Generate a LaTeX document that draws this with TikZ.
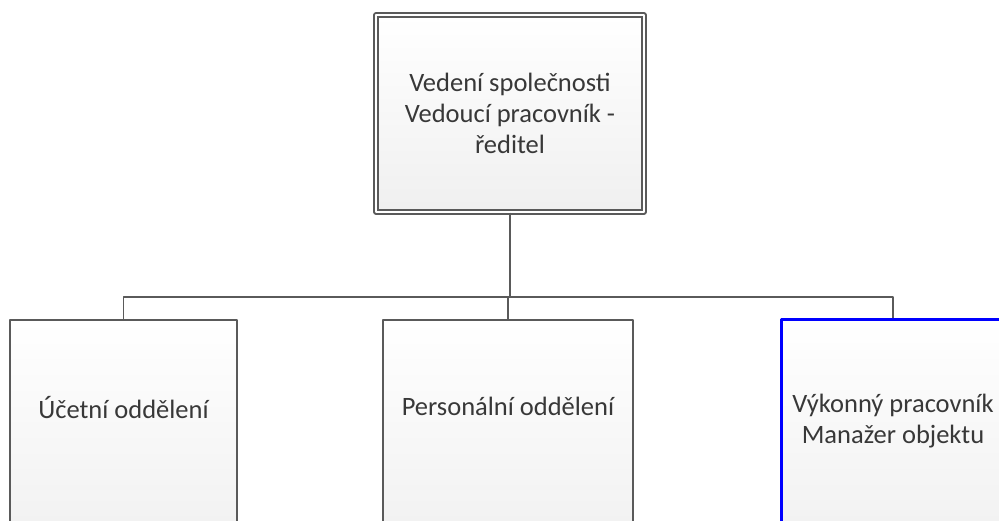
\documentclass[tikz,border=0pt]{standalone}
\usepackage{fontspec}
\setmainfont{Carlito}
\definecolor{boxgray}{HTML}{5A5A5A}
\definecolor{txtgray}{HTML}{383838}
\definecolor{selblue}{RGB}{0,0,255}
\begin{document}
\begin{tikzpicture}[x=1pt, y=-1pt, line join=round,
	box/.style={draw=boxgray, line width=1.6pt, top color=white, bottom color=black!6, minimum height=240pt, anchor=north, inner sep=0pt},
	headbox/.style={draw=boxgray, line width=1.4pt, double=white, double distance=2.6pt, top color=white, bottom color=black!6, minimum width=268pt, minimum height=197pt, inner sep=0pt},
	label/.style={text=txtgray, align=center, font=\fontsize{26.5}{31}\selectfont},
	conn/.style={draw=boxgray, line width=1.6pt}]
	\useasboundingbox (0,0) rectangle (999,521);
	\clip (0,0) rectangle (999,521);
	\node[headbox] (vedeni) at (510,113.5) {};
	\node[box, minimum width=227pt] (ucetni) at (123.5,319) {};
	\node[box, minimum width=250pt] (personal) at (508,319) {};
	\node[box, minimum width=223pt, draw=selblue, line width=2.8pt] (vykonny) at (893,318) {};
	\node[label] (vedenitxt) at (vedeni.center) {Vedení společnosti\\Vedoucí pracovník -\\ředitel};
	\node[label] (ucetnitxt) at (123.5,408) {Účetní oddělení};
	\node[label] (personaltxt) at (508,406) {Personální oddělení};
	\node[label] (vykonnytxt) at (893,421) {Výkonný pracovník\\Manažer objektu};
	\coordinate (bar) at (0,297);
	\draw[conn] (vedeni.south) -- (vedeni.south |- bar);
	\draw[conn] (ucetni.north) -- (ucetni.north |- bar) -- (vykonny.north |- bar) -- (vykonny.north);
	\draw[conn] (personal.north) -- (personal.north |- bar);
\end{tikzpicture}
\end{document}
